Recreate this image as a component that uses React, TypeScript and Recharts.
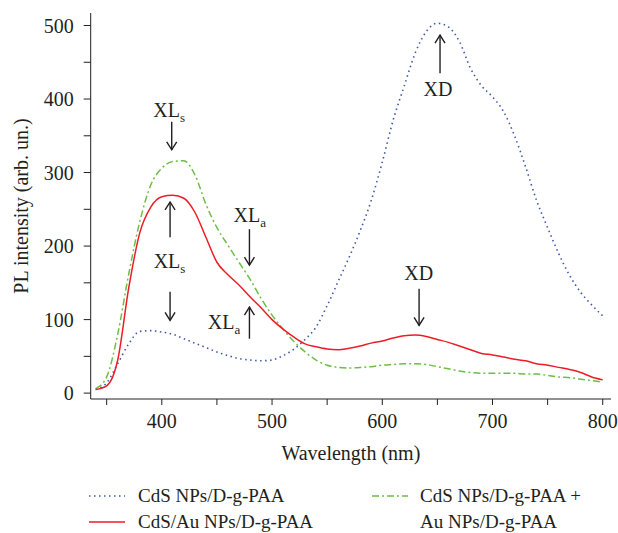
import { LineChart, Line, XAxis, YAxis, ReferenceLine, ReferenceDot } from "recharts";

// wavelength grid (nm)
const WAVELENGTH = [
  340, 350, 360, 370, 380, 390, 400, 410, 420, 430, 440, 450, 460, 470, 480, 490,
  500, 510, 520, 530, 540, 550, 560, 570, 580, 590, 600, 610, 620, 630, 640, 650,
  660, 670, 680, 690, 700, 710, 720, 730, 740, 750, 760, 770, 780, 790, 800,
];

// CdS NPs/D-g-PAA (dotted blue)
const CDS_NPS = [
  5, 14, 40, 67, 84, 85, 83, 80, 74, 68, 62, 56, 51, 47, 45, 44,
  45, 51, 60, 73, 90, 119, 152, 185, 221, 262, 314, 372, 418, 463, 492, 503,
  498, 478, 442, 418, 403, 383, 350, 308, 262, 225, 190, 160, 137, 120, 105,
];

// CdS/Au NPs/D-g-PAA (solid red)
const CDS_AU = [
  5, 10, 45, 143, 218, 253, 267, 269, 265, 246, 212, 178, 161, 147, 131, 116,
  100, 87, 76, 67, 63, 60, 59, 61, 64, 68, 71, 75, 78, 79, 77, 73,
  69, 64, 59, 54, 52, 49, 46, 44, 40, 38, 35, 32, 28, 22, 18,
];

// CdS NPs/D-g-PAA + Au NPs/D-g-PAA (dash-dot green)
const CDS_PLUS_AU = [
  6, 22, 80, 162, 233, 283, 306, 315, 316, 297, 257, 225, 201, 178, 155, 129,
  106, 87, 70, 56, 45, 38, 35, 34, 35, 36, 38, 39, 40, 40, 39, 36,
  33, 30, 28, 27, 27, 27, 27, 26, 26, 24, 22, 21, 19, 17, 15,
];

const X_TICKS = [350, 400, 450, 500, 550, 600, 650, 700, 750, 800];
const Y_TICKS = [0, 50, 100, 150, 200, 250, 300, 350, 400, 450, 500];

// annotation arrows: x position, tail value, tip value
const ARROWS = [
  { x: 409, from: 369, to: 331 },
  { x: 407.5, from: 212, to: 260 },
  { x: 407.5, from: 138, to: 99 },
  { x: 479.5, from: 223, to: 174 },
  { x: 479.5, from: 74, to: 117 },
  { x: 652.4, from: 435, to: 487 },
  { x: 633.4, from: 142, to: 92 },
];

// annotation texts: x center, baseline value
const NOTES = [
  { x: 406.6, y: 376, main: "XL", sub: "s" },
  { x: 407, y: 169.5, main: "XL", sub: "s" },
  { x: 479.8, y: 233, main: "XL", sub: "a" },
  { x: 456.5, y: 87.7, main: "XL", sub: "a" },
  { x: 650.6, y: 404, main: "XD", sub: "" },
  { x: 633, y: 154.5, main: "XD", sub: "" },
];

const FONT = "'Liberation Serif', 'Times New Roman', serif";
const INK = "#231f20";
const BLUE = "#3f5aa8";
const RED = "#ee1c25";
const GREEN = "#6dbe45";

const data = WAVELENGTH.map((w, i) => ({
  w,
  nps: CDS_NPS[i],
  au: CDS_AU[i],
  mix: CDS_PLUS_AU[i],
}));

const Arrow = (props: any) => {
  const { x1, y1, x2, y2 } = props;
  const dir = y2 > y1 ? 1 : -1;
  return (
    <g stroke={INK} strokeWidth={1.4} fill="none">
      <line x1={x1} y1={y1} x2={x2} y2={y2} />
      <polyline points={`${x2 - 5},${y2 - dir * 8} ${x2},${y2} ${x2 + 5},${y2 - dir * 8}`} />
    </g>
  );
};

const noteShape = (main: string, sub: string) => (p: any) => (
  <text x={p.cx} y={p.cy} textAnchor="middle" fontFamily={FONT} fontSize={20} fill={INK}>
    {main}
    {sub ? (
      <tspan fontSize={13} dy={5}>
        {sub}
      </tspan>
    ) : null}
  </text>
);

const LegendLine = ({ color, dash, width = 1.5 }: { color: string; dash?: string; width?: number }) => (
  <svg width={36} height={10} style={{ display: "block" }}>
    <line x1={0} y1={5} x2={36} y2={5} stroke={color} strokeWidth={width} strokeDasharray={dash} />
  </svg>
);

export default function App() {
  const legendText = { fontFamily: FONT, fontSize: 19, color: INK, whiteSpace: "nowrap" as const };
  // absolute so the page never grows past the window (no scrollbar eating the right edge)
  return (
    <div style={{ position: "absolute", left: 8, top: 8, width: 610, height: 525 }}>
      <style>{`.recharts-surface { overflow: visible; }`}</style>
      <LineChart width={610} height={525} data={data} margin={{ top: 5, right: 7, left: 0, bottom: 94 }}>
        <XAxis
          dataKey="w"
          type="number"
          domain={[335.5, 807.5]}
          allowDataOverflow
          ticks={X_TICKS}
          tickFormatter={(v) => (v % 100 === 0 ? String(v) : "")}
          tickSize={6}
          tickMargin={9}
          height={40}
          stroke={INK}
          tick={{ fill: INK, fontFamily: FONT, fontSize: 20 }}
          label={{
            content: (p: any) => {
              const vb = p.viewBox;
              return (
                <text
                  x={vb.x + vb.width / 2}
                  y={vb.y + 54}
                  textAnchor="middle"
                  dominantBaseline="central"
                  fontFamily={FONT}
                  fontSize={20}
                  fill={INK}
                >
                  Wavelength (nm)
                </text>
              );
            },
          }}
        />
        <YAxis
          type="number"
          domain={[-8, 517]}
          allowDataOverflow
          ticks={Y_TICKS}
          tickFormatter={(v) => (v % 100 === 0 ? String(v) : "")}
          tickSize={7}
          tickMargin={10}
          width={82.7}
          stroke={INK}
          tick={{ fill: INK, fontFamily: FONT, fontSize: 20 }}
          label={{
            content: (p: any) => {
              const vb = p.viewBox;
              const cx = vb.x + 13;
              const cy = vb.y + vb.height / 2;
              return (
                <text
                  x={cx}
                  y={cy}
                  transform={`rotate(-90 ${cx} ${cy})`}
                  textAnchor="middle"
                  dominantBaseline="central"
                  fontFamily={FONT}
                  fontSize={20}
                  fill={INK}
                >
                  PL intensity (arb. un.)
                </text>
              );
            },
          }}
        />
        <Line
          dataKey="nps"
          type="monotone"
          stroke={BLUE}
          strokeWidth={1.6}
          strokeDasharray="1.5 3.5"
          dot={false}
          isAnimationActive={false}
        />
        <Line
          dataKey="mix"
          type="monotone"
          stroke={GREEN}
          strokeWidth={1.5}
          strokeDasharray="7 3 2 3"
          dot={false}
          isAnimationActive={false}
        />
        <Line dataKey="au" type="monotone" stroke={RED} strokeWidth={1.5} dot={false} isAnimationActive={false} />
        {ARROWS.map((a, i) => (
          <ReferenceLine
            key={`a${i}`}
            segment={[
              { x: a.x, y: a.from },
              { x: a.x, y: a.to },
            ]}
            shape={Arrow}
          />
        ))}
        {NOTES.map((n, i) => (
          <ReferenceDot key={`n${i}`} x={n.x} y={n.y} r={0} shape={noteShape(n.main, n.sub)} />
        ))}
      </LineChart>
      <div style={{ position: "absolute", left: 81, top: 475 }}>
        <div style={{ display: "flex", alignItems: "center", height: 26 }}>
          <LegendLine color={BLUE} dash="1.5 3.5" width={1.6} />
          <span style={{ ...legendText, marginLeft: 13 }}>CdS NPs/D-g-PAA</span>
        </div>
        <div style={{ display: "flex", alignItems: "center", height: 26 }}>
          <LegendLine color={RED} />
          <span style={{ ...legendText, marginLeft: 13 }}>CdS/Au NPs/D-g-PAA</span>
        </div>
      </div>
      <div style={{ position: "absolute", left: 364, top: 475, display: "flex" }}>
        <div style={{ height: 26, display: "flex", alignItems: "center" }}>
          <LegendLine color={GREEN} dash="7 3 2 3" />
        </div>
        <div style={{ marginLeft: 12 }}>
          <div style={{ ...legendText, height: 26, lineHeight: "26px" }}>CdS NPs/D-g-PAA +</div>
          <div style={{ ...legendText, height: 26, lineHeight: "26px" }}>Au NPs/D-g-PAA</div>
        </div>
      </div>
    </div>
  );
}
